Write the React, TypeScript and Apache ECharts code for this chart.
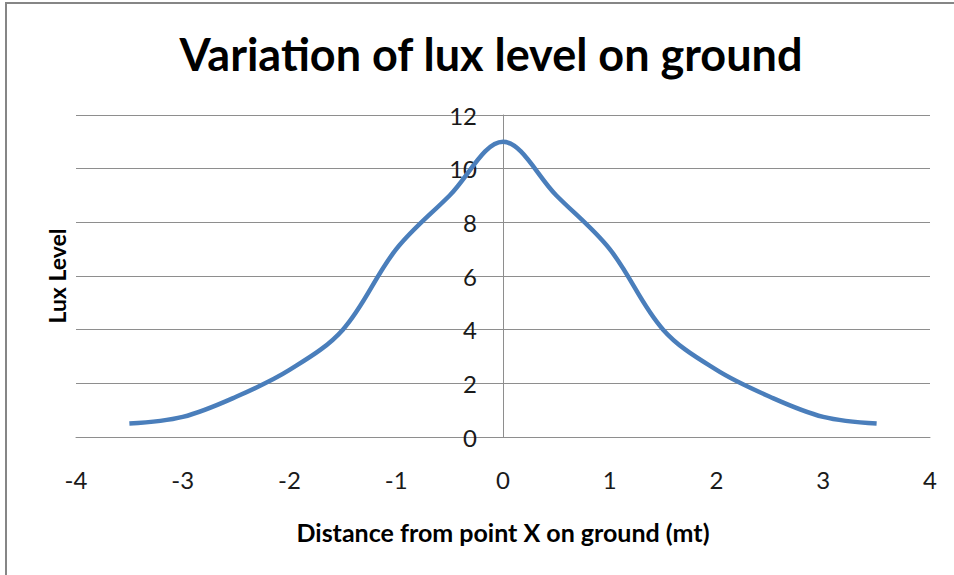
import React, { useEffect, useRef } from "react";
import * as echarts from "echarts";

const titleText = "Variation of lux level on ground";
const xAxisName = "Distance from point X on ground (mt)";
const yAxisName = "Lux Level";
const xValues = [-3.5, -3, -2.5, -2, -1.5, -1, -0.5, 0, 0.5, 1, 1.5, 2, 2.5, 3, 3.5];
const luxValues = [0.5, 0.75, 1.5, 2.5, 4, 7, 9, 11, 9, 7, 4, 2.5, 1.5, 0.75, 0.5];

const FONT = "Lato, 'Open Sans', sans-serif";
const GRID_COLOR = "#8e8e8e";

export default function App() {
  const ref = useRef<HTMLDivElement>(null);
  useEffect(() => {
    if (!ref.current) return;
    const chart = echarts.init(ref.current, undefined, { renderer: "svg" });
    const data = xValues.map((x, i) => [x, luxValues[i]]);
    chart.setOption({
      animation: false,
      backgroundColor: "#ffffff",
      title: {
        text: titleText,
        left: 486,
        top: 26,
        textAlign: "center",
        textStyle: { fontFamily: FONT, fontWeight: "bold", fontSize: 45, color: "#000" },
      },
      graphic: [
        {
          type: "rect",
          shape: { x: 6, y: 3, width: 1000, height: 700 },
          style: { fill: "none", stroke: "#868686", lineWidth: 2 },
          silent: true,
        },
        {
          type: "text",
          x: 57,
          y: 276,
          rotation: Math.PI / 2,
          style: {
            text: yAxisName,
            fontFamily: FONT,
            fontWeight: "bold",
            fontSize: 23,
            fill: "#000",
            align: "center",
            verticalAlign: "middle",
          },
        },
      ],
      grid: { left: 76, right: 24, top: 115, bottom: 138, containLabel: false },
      xAxis: {
        type: "value",
        min: -4,
        max: 4,
        interval: 1,
        name: xAxisName,
        nameLocation: "middle",
        nameGap: 82,
        nameTextStyle: { fontFamily: FONT, fontWeight: "bold", fontSize: 25, color: "#000" },
        axisLine: { onZero: false, lineStyle: { color: GRID_COLOR, width: 1 } },
        axisTick: { show: false },
        splitLine: { show: false },
        axisLabel: { fontFamily: FONT, fontSize: 24, color: "#1a1a1a", margin: 30 },
      },
      yAxis: {
        type: "value",
        min: 0,
        max: 12,
        interval: 2,
        position: "left",
        offset: -427,
        axisLine: { show: true, onZero: false, lineStyle: { color: GRID_COLOR, width: 1 } },
        axisTick: { show: false },
        splitLine: { show: true, lineStyle: { color: GRID_COLOR, width: 1 } },
        axisLabel: { fontFamily: FONT, fontSize: 24, color: "#1a1a1a", margin: 26 },
      },
      series: [
        {
          type: "line",
          data,
          smooth: 0.35,
          showSymbol: false,
          symbol: "none",
          lineStyle: { color: "#4a7ebb", width: 4.5 },
          itemStyle: { color: "#4a7ebb" },
        },
      ],
    });
    return () => chart.dispose();
  }, []);
  return (
    <div
      ref={ref}
      style={{ position: "fixed", left: 0, top: 0, width: 954, height: 575 }}
    />
  );
}
